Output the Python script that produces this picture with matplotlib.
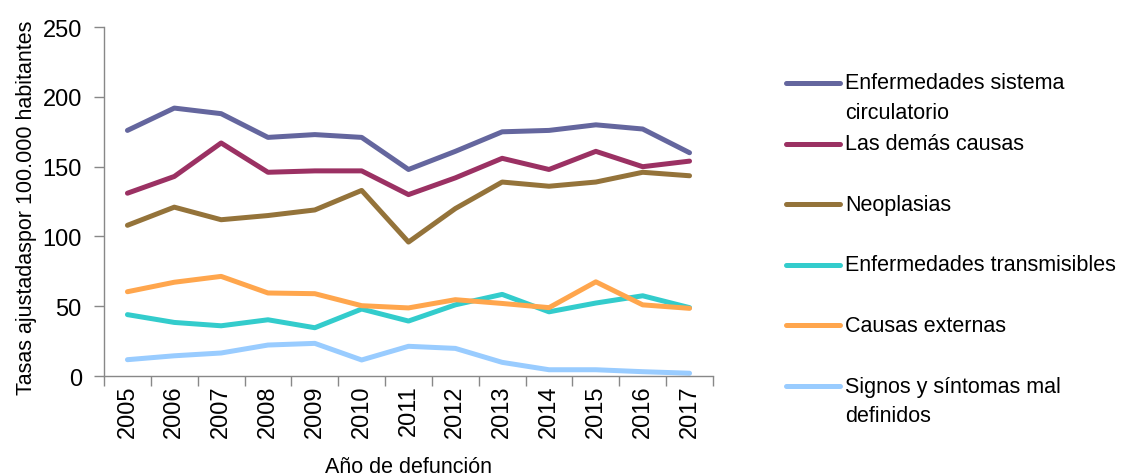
import matplotlib
matplotlib.use('Agg')
import matplotlib.pyplot as plt
from matplotlib.lines import Line2D

plt.rcParams['font.family'] = ['Liberation Sans', 'DejaVu Sans']

years = [2005, 2006, 2007, 2008, 2009, 2010, 2011, 2012, 2013, 2014, 2015, 2016, 2017]

circulatorio = [176, 192, 188, 171, 173, 171, 148, 161, 175, 176, 180, 177, 160]
demas_causas = [131, 143, 167, 146, 147, 147, 130, 142, 156, 148, 161, 150, 154]
neoplasias = [108, 121, 112, 115, 119, 133, 96, 120, 139, 136, 139, 146, 143.5]
transmisibles = [44, 38.4, 36, 40.3, 34.6, 48, 39.4, 51, 58.5, 46, 52.3, 57.5, 49]
externas = [60.4, 67.2, 71.4, 59.5, 59, 50.4, 48.8, 54.7, 52, 49, 67.5, 51, 48.5]
signos = [11.7, 14.5, 16.5, 22.2, 23.4, 11.5, 21.3, 19.8, 9.8, 4.5, 4.5, 3.1, 2]

series = [
    ('Enfermedades sistema\ncirculatorio', circulatorio, '#64669E'),
    ('Las demás causas', demas_causas, '#9B3163'),
    ('Neoplasias', neoplasias, '#94733A'),
    ('Enfermedades transmisibles', transmisibles, '#33CCCC'),
    ('Causas externas', externas, '#FFA64D'),
    ('Signos y síntomas mal\ndefinidos', signos, '#99CCFF'),
]

fig = plt.figure(figsize=(11.21, 4.77), dpi=100)
ax = fig.add_axes([0.0928, 0.2096, 0.5432, 0.7314])

x = list(range(len(years)))
for label, vals, color in series:
    ax.plot(x, vals, color=color, lw=3.6, solid_capstyle='round', solid_joinstyle='round')

ax.set_xlim(-0.5, len(years) - 0.5)
ax.set_ylim(0, 250)
ax.set_yticks([0, 50, 100, 150, 200, 250])
ax.set_xticks(x)
ax.set_xticklabels([str(y) for y in years], rotation=90)
ax.set_xticks([i - 0.5 for i in range(len(years) + 1)], minor=True)
ax.tick_params(axis='x', which='major', length=0, pad=6, labelsize=17)
ax.tick_params(axis='x', which='minor', length=7, color='#888888', width=1)
ax.tick_params(axis='y', length=7, color='#888888', width=1, labelsize=17, pad=9)

for s in ['top', 'right']:
    ax.spines[s].set_visible(False)
for s in ['left', 'bottom']:
    ax.spines[s].set_color('#888888')
    ax.spines[s].set_linewidth(1)

ax.set_ylabel('Tasas ajustadaspor 100.000 habitantes', fontsize=15.5)
ax.yaxis.set_label_coords(-0.110, 0.486)
ax.set_xlabel('Año de defunción', fontsize=15.5)
ax.xaxis.set_label_coords(0.5, -0.229)

# legend drawn by hand so that the line sits on the first row of text
W, H = 1121, 477
y0 = 84
step = 60.6
for i, (label, vals, color) in enumerate(series):
    yp = y0 + i * step
    fy = 1 - yp / H
    fig.add_artist(Line2D([786 / W, 840 / W], [fy, fy], color=color, lw=3.6,
                          solid_capstyle='round', transform=fig.transFigure))
    for j, line in enumerate(label.split('\n')):
        fig.text(845 / W, 1 - (yp + j * 30) / H, line, fontsize=15.5,
                 va='center', ha='left')

fig.savefig('out.png', dpi=100)
